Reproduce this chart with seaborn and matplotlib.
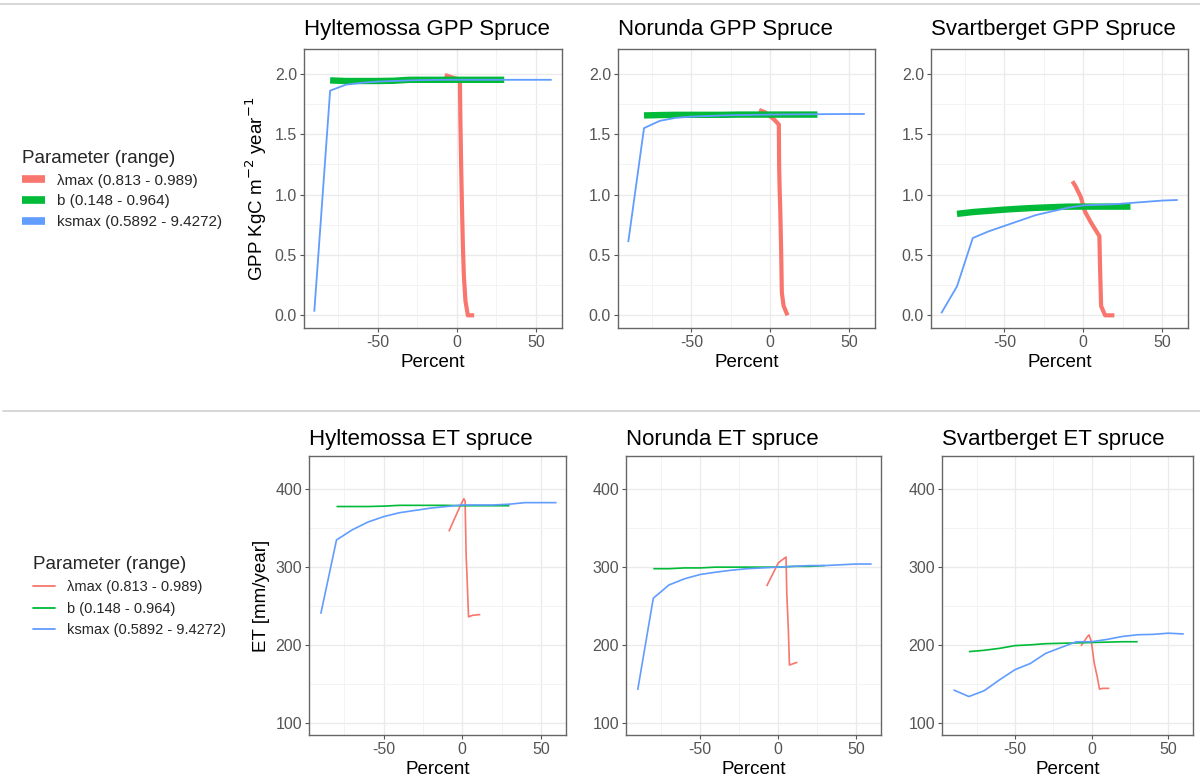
import numpy as np
import pandas as pd
import matplotlib
matplotlib.use("Agg")
import matplotlib.pyplot as plt
from matplotlib.lines import Line2D
from matplotlib.ticker import MultipleLocator
import seaborn as sns

# ---------------- data ----------------
param_labels = ["λmax (0.813 - 0.989)", "b (0.148 - 0.964)", "ksmax (0.5892 - 9.4272)"]
param_colors = ["#F8766D", "#00BA38", "#619CFF"]

ksmax_pct = [-90, -80, -70, -60, -50, -40, -30, -20, -10, 0, 10, 20, 30, 40, 50, 60]
b_pct = [-80, -70, -60, -50, -40, -30, -20, -10, 0, 10, 20, 30]

# GPP (KgC m-2 year-1)
hyl_gpp_ks = [0.03, 1.86, 1.91, 1.925, 1.935, 1.94, 1.945, 1.948, 1.95, 1.95, 1.95, 1.95, 1.95, 1.95, 1.95, 1.95]
hyl_gpp_b = [1.945, 1.94, 1.94, 1.94, 1.942, 1.95, 1.95, 1.95, 1.95, 1.95, 1.95, 1.95]
hyl_gpp_lam_x = [-7.5, -3, 2, 2.3, 2.8, 3.3, 3.9, 4.5, 5.5, 7, 11]
hyl_gpp_lam_y = [1.99, 1.97, 1.95, 1.62, 1.23, 0.9, 0.57, 0.33, 0.12, 0.0, 0.0]

nor_gpp_ks = [0.606, 1.55, 1.61, 1.635, 1.645, 1.65, 1.655, 1.658, 1.66, 1.662, 1.663, 1.664, 1.665, 1.666, 1.667, 1.667]
nor_gpp_b = [1.655, 1.658, 1.66, 1.66, 1.66, 1.66, 1.662, 1.662, 1.662, 1.662, 1.662, 1.662]
nor_gpp_lam_x = [-7, -3, 2.6, 5.5, 5.7, 6.0, 6.4, 7.0, 7.4, 8.5, 11]
nor_gpp_lam_y = [1.70, 1.68, 1.62, 1.58, 1.23, 1.05, 0.88, 0.52, 0.19, 0.08, 0.0]

sva_gpp_ks = [0.017, 0.24, 0.64, 0.695, 0.74, 0.785, 0.83, 0.86, 0.89, 0.91, 0.915, 0.92, 0.93, 0.94, 0.95, 0.955]
sva_gpp_b = [0.84, 0.855, 0.865, 0.875, 0.883, 0.89, 0.895, 0.9, 0.9, 0.9, 0.9, 0.9]
sva_gpp_lam_x = [-6.8, -4.9, -1.5, 1.1, 4.9, 10.3, 10.8, 11.4, 13.9, 19.8]
sva_gpp_lam_y = [1.11, 1.07, 0.98, 0.86, 0.77, 0.655, 0.35, 0.077, 0.0, 0.0]

# ET (mm/year)
hyl_et_ks = [240, 335, 348, 358, 365, 370, 373, 376, 378, 380, 380, 380, 381, 383, 383, 383]
hyl_et_b = [378, 378, 378, 378.5, 379.5, 379.5, 379.5, 379.5, 379, 379, 379, 379]
hyl_et_lam_x = [-8.5, -5, -1, 1, 1.8, 2.5, 3.0, 3.5, 4.0, 6.5, 11.5]
hyl_et_lam_y = [346, 362, 380, 388, 385, 313, 290, 262, 236, 238, 239]

nor_et_ks = [142, 260, 277, 285, 290.5, 293.5, 296, 298, 299, 300, 301, 302, 302, 303, 304, 304]
nor_et_b = [298, 298, 299, 299, 300, 300, 300, 300, 300, 301, 301, 302]
nor_et_lam_x = [-7.3, -5.2, 0.2, 5.1, 5.6, 6.6, 7.3, 10, 12.4]
nor_et_lam_y = [275.6, 284, 305.6, 313, 266, 219, 174, 176, 177.6]

sva_et_ks = [142, 133.5, 141, 155, 168, 176, 189, 196.6, 204, 204, 207, 210.8, 213, 213.5, 215, 214]
sva_et_b = [191.3, 193, 195.5, 199, 200, 201.5, 202, 202.5, 203, 203.5, 204, 204]
sva_et_lam_x = [-7.0, -2.8, -1.7, -0.2, 1.7, 3.6, 5.1, 7.0, 11.5]
sva_et_lam_y = [198.6, 210.6, 212.8, 204, 176, 159, 143, 144, 144]

gpp_titles = ["Hyltemossa GPP Spruce", "Norunda GPP Spruce", "Svartberget GPP Spruce"]
et_titles = ["Hyltemossa ET spruce", "Norunda ET spruce", "Svartberget ET spruce"]
gpp_yticks = [0.0, 0.5, 1.0, 1.5, 2.0]
et_yticks = [100, 200, 300, 400]
xticks = [-50, 0, 50]

# ---------------- style ----------------
sns.set_theme(style="white")
plt.rcParams["font.family"] = ["Liberation Sans", "DejaVu Sans"]
plt.rcParams["axes.unicode_minus"] = False

W, H = 1200, 780
fig = plt.figure(figsize=(12, 7.8), dpi=100)
fig.patch.set_facecolor("white")


def rect(l, r, t, b):
    return [l / W, 1 - b / H, (r - l) / W, (b - t) / H]


def make_df(lam_x, lam_y, b_y, ks_y):
    rows = []
    for x, y in zip(lam_x, lam_y):
        rows.append((param_labels[0], x, y))
    for x, y in zip(b_pct, b_y):
        rows.append((param_labels[1], x, y))
    for x, y in zip(ksmax_pct, ks_y):
        rows.append((param_labels[2], x, y))
    return pd.DataFrame(rows, columns=["Parameter", "Percent", "Value"])


def style_ax(ax, xlim, ylim, yticks, ylabel_fmt, ymin_step):
    ax.set_xlim(*xlim)
    ax.set_ylim(*ylim)
    ax.set_xticks(xticks)
    ax.set_xticklabels([str(v) for v in xticks])
    ax.set_yticks(yticks)
    ax.xaxis.set_minor_locator(MultipleLocator(25))
    ax.yaxis.set_minor_locator(MultipleLocator(ymin_step))
    ax.set_yticklabels([ylabel_fmt(v) for v in yticks])
    ax.grid(True, which="major", color="#EBEBEB", lw=1.0)
    ax.grid(True, which="minor", color="#F3F3F3", lw=0.7)
    ax.set_axisbelow(True)
    for s in ax.spines.values():
        s.set_color("#666666")
        s.set_linewidth(1.0)
    ax.tick_params(axis="both", which="major", length=3, width=0.8, color="#555555",
                   labelcolor="#555555", labelsize=11.5, pad=2, bottom=True, left=True)
    ax.tick_params(axis="both", which="minor", length=0)
    ax.set_xlabel("Percent", fontsize=13.5, color="black", labelpad=3)
    ax.set_ylabel("")


def draw(ax, df, widths):
    for lab, col, lw in zip(param_labels, param_colors, widths):
        sub = df[df["Parameter"] == lab]
        sns.lineplot(data=sub, x="Percent", y="Value", color=col, linewidth=lw,
                     sort=False, estimator=None, ax=ax, legend=False,
                     solid_capstyle="butt", solid_joinstyle="round")


# ---------------- top row (GPP) ----------------
gpp_data = [
    (hyl_gpp_lam_x, hyl_gpp_lam_y, hyl_gpp_b, hyl_gpp_ks),
    (nor_gpp_lam_x, nor_gpp_lam_y, nor_gpp_b, nor_gpp_ks),
    (sva_gpp_lam_x, sva_gpp_lam_y, sva_gpp_b, sva_gpp_ks),
]
top_pos = [(304, 562, 49, 328), (618, 875, 49, 328), (931, 1188, 49, 328)]
for i, (d, pos, title) in enumerate(zip(gpp_data, top_pos, gpp_titles)):
    ax = fig.add_axes(rect(*pos))
    df = make_df(*d)
    draw(ax, df, [3.0, 4.6, 1.3])
    style_ax(ax, (-96.5, 66.5), (-0.105, 2.205), gpp_yticks, lambda v: f"{v:.1f}", 0.25)
    ax.set_title(title, loc="left", fontsize=16, color="black", pad=10)
    if i == 0:
        ax.set_ylabel("GPP KgC m$^{-2}$ year$^{-1}$", fontsize=13.5, color="black", labelpad=4)

# ---------------- bottom row (ET) ----------------
et_data = [
    (hyl_et_lam_x, hyl_et_lam_y, hyl_et_b, hyl_et_ks),
    (nor_et_lam_x, nor_et_lam_y, nor_et_b, nor_et_ks),
    (sva_et_lam_x, sva_et_lam_y, sva_et_b, sva_et_ks),
]
bot_pos = [(309, 566, 456, 735), (626, 881, 456, 735), (942, 1193, 456, 735)]
for i, (d, pos, title) in enumerate(zip(et_data, bot_pos, et_titles)):
    ax = fig.add_axes(rect(*pos))
    df = make_df(*d)
    draw(ax, df, [1.2, 1.2, 1.2])
    style_ax(ax, (-97.5, 66), (84, 443), et_yticks, lambda v: f"{v:d}", 50)
    ax.set_title(title, loc="left", fontsize=16, color="black", pad=8)
    if i == 0:
        ax.set_ylabel("ET [mm/year]", fontsize=13.5, color="black", labelpad=4)

# ---------------- legends ----------------
top_handles = [Line2D([0], [0], color=c, lw=5.5, solid_capstyle="butt") for c in param_colors]
leg1 = fig.legend(top_handles, param_labels, title="Parameter (range)",
                  loc="upper left", bbox_to_anchor=(8 / W, 1 - 136 / H),
                  frameon=False, fontsize=11, title_fontsize=13.5,
                  handlelength=1.5, handletextpad=0.8, labelspacing=0.45,
                  alignment="left")
bot_handles = [Line2D([0], [0], color=c, lw=1.3) for c in param_colors]
leg2 = fig.legend(bot_handles, param_labels, title="Parameter (range)",
                  loc="upper left", bbox_to_anchor=(20 / W, 1 - 543 / H),
                  frameon=False, fontsize=10.5, title_fontsize=13.5,
                  handlelength=1.5, handletextpad=0.8, labelspacing=0.5,
                  alignment="left")

# ---------------- separators ----------------
fig.add_artist(Line2D([0, 1], [1 - 4 / H, 1 - 4 / H], transform=fig.transFigure,
                      color="#D0D0D0", lw=1.2))
fig.add_artist(Line2D([3 / W, 1], [1 - 411 / H, 1 - 411 / H], transform=fig.transFigure,
                      color="#D0D0D0", lw=1.2))

fig.savefig("out.png", dpi=100, facecolor="white")
